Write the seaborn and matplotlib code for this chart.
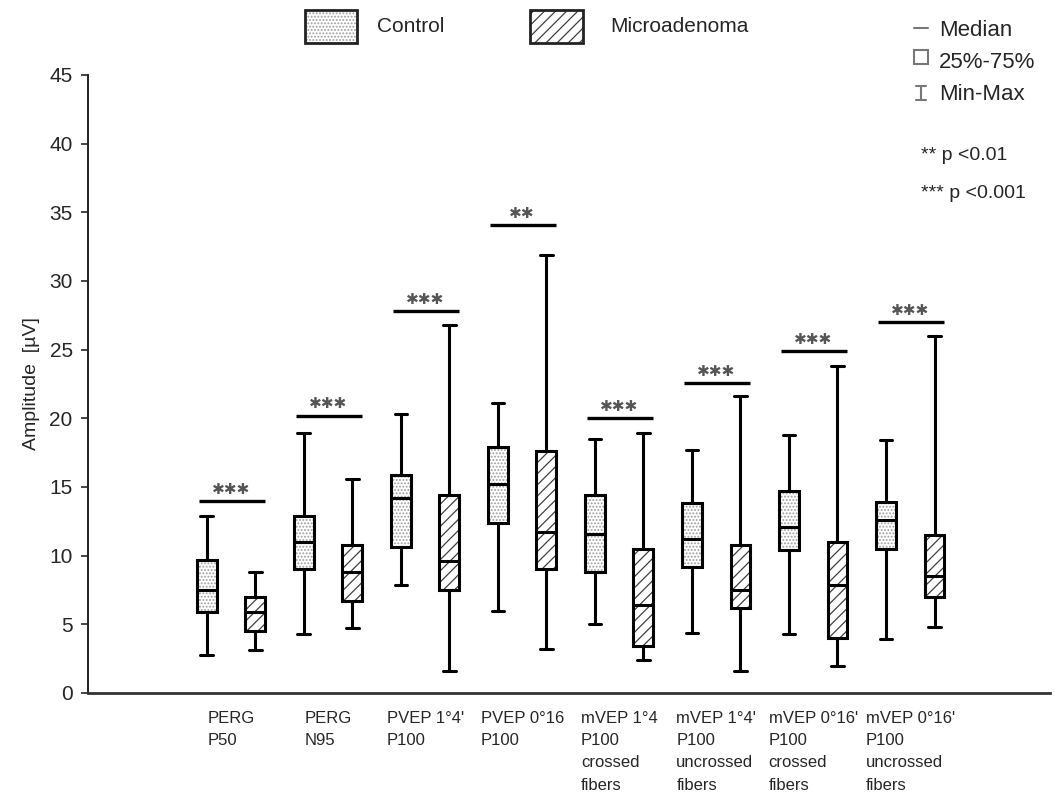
import numpy as np
import pandas as pd
import matplotlib
matplotlib.use("Agg")
import matplotlib.pyplot as plt
import seaborn as sns
from matplotlib.patches import Rectangle
from matplotlib.lines import Line2D
from matplotlib.colors import to_rgba
from matplotlib import font_manager

categories = ["PERG\nP50", "PERG\nN95", "PVEP 1°4'\nP100", "PVEP 0°16\nP100",
              "mVEP 1°4\nP100\ncrossed\nfibers", "mVEP 1°4'\nP100\nuncrossed\nfibers",
              "mVEP 0°16'\nP100\ncrossed\nfibers", "mVEP 0°16'\nP100\nuncrossed\nfibers"]
groups = ["Control", "Microadenoma"]

control_min = [2.8, 4.3, 7.9, 6.0, 5.0, 4.4, 4.3, 3.9]
control_q1 = [5.9, 9.0, 10.6, 12.4, 8.8, 9.2, 10.4, 10.5]
control_med = [7.5, 11.0, 14.2, 15.2, 11.6, 11.2, 12.1, 12.6]
control_q3 = [9.7, 12.9, 15.9, 17.9, 14.4, 13.8, 14.7, 13.9]
control_max = [12.9, 18.9, 20.3, 21.1, 18.5, 17.7, 18.8, 18.4]

micro_min = [3.1, 4.7, 1.6, 3.2, 2.4, 1.6, 2.0, 4.8]
micro_q1 = [4.5, 6.7, 7.5, 9.0, 3.4, 6.2, 4.0, 7.0]
micro_med = [5.9, 8.8, 9.6, 11.7, 6.4, 7.5, 7.9, 8.5]
micro_q3 = [7.0, 10.8, 14.4, 17.6, 10.5, 10.8, 11.0, 11.5]
micro_max = [8.8, 15.6, 26.8, 31.9, 18.9, 21.6, 23.8, 26.0]

sig_height = [14.0, 20.2, 27.8, 34.1, 20.0, 22.6, 24.9, 27.0]
sig_stars = ["***", "***", "***", "**", "***", "***", "***", "***"]

# long-form table: five summary values per box (min, q1, median, q3, max)
rows = []
stats = {"Control": (control_min, control_q1, control_med, control_q3, control_max),
         "Microadenoma": (micro_min, micro_q1, micro_med, micro_q3, micro_max)}
for g in groups:
    for i, c in enumerate(categories):
        for arr in stats[g]:
            rows.append({"category": c, "group": g, "value": arr[i]})
df = pd.DataFrame(rows)

sns.set_style("white")
names = {f.name for f in font_manager.fontManager.ttflist}
base = "Liberation Sans" if "Liberation Sans" in names else "DejaVu Sans"
plt.rcParams["font.family"] = [base, "DejaVu Sans"]
plt.rcParams["hatch.linewidth"] = 0.9

fig = plt.figure(figsize=(10.55, 7.99), dpi=100)
ax = fig.add_axes([88 / 1055, 1 - 693 / 799, (1050 - 88) / 1055, (693 - 75) / 799])

sns.boxplot(data=df, x="category", y="value", hue="group", order=categories,
            hue_order=groups, palette={"Control": "white", "Microadenoma": "white"},
            saturation=1, width=1.0, gap=0.59, whis=(0, 100), linecolor="black",
            linewidth=2.2, dodge=True, legend=False, fliersize=0, capwidths=0.13, ax=ax)

for p in ax.patches:
    verts = p.get_path().vertices
    xm = verts[:, 0].mean()
    if xm < round(xm):
        p.set_hatch(".....")
        p._hatch_color = to_rgba("0.62")
    else:
        p.set_hatch("///")
        p._hatch_color = to_rgba("0.25")

ax.set_ylim(0, 45)
ax.set_xlim(-1.474, 8.44)
ax.set_yticks(np.arange(0, 46, 5))
ax.tick_params(axis="y", labelsize=15, length=5, width=1.2, direction="out", left=True, pad=6)
ax.tick_params(axis="x", length=0, pad=13)
ax.set_xticks(range(len(categories)))
ax.set_xticklabels(categories, fontsize=12, multialignment="left",
                   linespacing=1.6, va="top")
ax.set_xlabel("")
ax.set_ylabel("Amplitude  [µV]", fontsize=14, labelpad=7)
for s in ["top", "right"]:
    ax.spines[s].set_visible(False)
ax.spines["left"].set_linewidth(1.4)
ax.spines["bottom"].set_linewidth(2)
ax.spines["left"].set_color("#222222")
ax.spines["bottom"].set_color("#333333")

for i, (h, st) in enumerate(zip(sig_height, sig_stars)):
    ax.plot([i - 0.33, i + 0.35], [h, h], color="black", lw=2.4, solid_capstyle="butt")
    ax.text(i, h + 0.3, "\u2731" * len(st), ha="center", va="bottom",
            fontsize=11, color="#555555", family="DejaVu Sans")

# top legend
def fx(px):
    return px / 1055
def fy(py):
    return 1 - py / 799

r1 = Rectangle((fx(305), fy(43)), fx(357) - fx(305), fy(10) - fy(43), transform=fig.transFigure,
               facecolor="white", edgecolor="#222222", lw=2, hatch=".....")
r1._hatch_color = to_rgba("0.62")
fig.add_artist(r1)
fig.text(fx(377), fy(27), "Control", fontsize=15, va="center", ha="left")
r2 = Rectangle((fx(530), fy(43)), fx(583) - fx(530), fy(10) - fy(43), transform=fig.transFigure,
               facecolor="white", edgecolor="#222222", lw=2, hatch="///")
r2._hatch_color = to_rgba("0.25")
fig.add_artist(r2)
fig.text(fx(610), fy(27), "Microadenoma", fontsize=15, va="center", ha="left")

# right legend
gray = "#777777"
fig.add_artist(Line2D([fx(914), fx(928)], [fy(28), fy(28)], transform=fig.transFigure, color=gray, lw=1.5))
fig.text(fx(939), fy(30), "Median", fontsize=16, va="center", ha="left")
fig.add_artist(Rectangle((fx(914), fy(64)), fx(928) - fx(914), fy(50) - fy(64), transform=fig.transFigure,
                         facecolor="white", edgecolor=gray, lw=1.5))
fig.add_artist(Line2D([fx(921), fx(921)], [fy(86), fy(100)], transform=fig.transFigure, color=gray, lw=1.5))
fig.add_artist(Line2D([fx(916), fx(926)], [fy(86), fy(86)], transform=fig.transFigure, color=gray, lw=1.5))
fig.add_artist(Line2D([fx(916), fx(926)], [fy(100), fy(100)], transform=fig.transFigure, color=gray, lw=1.5))
fig.text(fx(939), fy(62), "25%-75%", fontsize=16, va="center", ha="left")
fig.text(fx(939), fy(95), "Min-Max", fontsize=16, va="center", ha="left")
fig.text(fx(921), fy(155), "** p <0.01", fontsize=14, va="center", ha="left")
fig.text(fx(921), fy(193), "*** p <0.001", fontsize=14, va="center", ha="left")

fig.savefig("out.png", dpi=100)
